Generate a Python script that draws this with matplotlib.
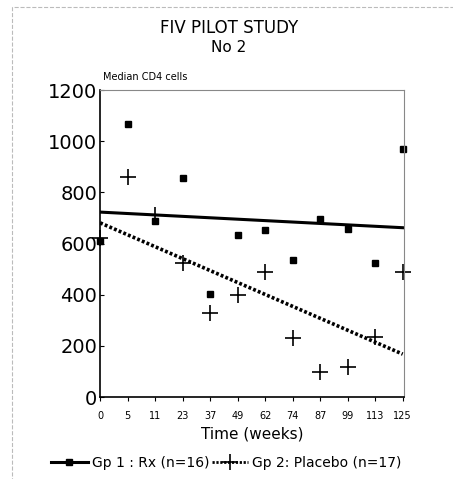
import matplotlib.pyplot as plt
from matplotlib.patches import Rectangle

weeks = ['0', '5', '11', '23', '37', '49', '62', '74', '87', '99', '113', '125']
rx = [610, 1067, 688, 856, 403, 633, 653, 536, 696, 657, 524, 970]
placebo = [620, 860, 711, 524, 328, 399, 489, 231, 98, 117, 235, 489]
# fitted trend lines, start and end values
trend_rx = [723, 662]
trend_placebo = [681, 168]

fig = plt.figure(figsize=(4.53, 4.79), dpi=100)
ax = fig.add_axes([0.221, 0.171, 0.671, 0.641])

x = list(range(len(weeks)))
ends = [x[0], x[-1]]

ax.plot(x, rx, 's', color='black', markersize=5, clip_on=False)
ax.plot(x, placebo, '+', color='black', markersize=11, mew=1.2, clip_on=False)
ax.plot(ends, trend_rx, '-', color='black', lw=2.2)
ax.plot(ends, trend_placebo, ls=(0, (0.8, 0.6)), color='black', lw=2.6)

ax.set_xlim(0, 11.05)
ax.set_ylim(0, 1200)
ax.set_xticks(x)
ax.set_xticklabels(weeks, fontsize=7)
ax.set_yticks(range(0, 1201, 200))
ax.tick_params(axis='y', direction='in', length=3, labelsize=14, pad=2)
ax.tick_params(axis='x', direction='out', length=3, pad=7)
for s in ['top', 'right']:
    ax.spines[s].set_color('#888888')
    ax.spines[s].set_linewidth(0.8)
ax.spines['left'].set_linewidth(1.2)
ax.spines['bottom'].set_linewidth(1.2)
ax.set_xlabel('Time (weeks)', fontsize=11, labelpad=4)

fig.text(0.505, 0.942, 'FIV PILOT STUDY', ha='center', va='center', fontsize=12)
fig.text(0.505, 0.900, 'No 2', ha='center', va='center', fontsize=11)
fig.text(0.227, 0.840, 'Median CD4 cells', ha='left', va='center', fontsize=7)

h1, = ax.plot([], [], '-s', color='black', lw=2.2, markersize=5)
h2, = ax.plot([], [], marker='+', ls=(0, (0.8, 0.6)), color='black', lw=2, markersize=11, mew=1.2)
fig.legend([h1, h2], ['Gp 1 : Rx (n=16)', 'Gp 2: Placebo (n=17)'],
           loc='center', bbox_to_anchor=(0.5, 0.033), ncol=2, frameon=False,
           fontsize=10, handlelength=2.6, handletextpad=0.3, columnspacing=0.2)

# scan border
fig.patches.append(Rectangle((0.027, -0.01), 0.99, 0.995, transform=fig.transFigure,
                             fill=False, ec='#bbbbbb', lw=0.8, ls='--'))

fig.savefig('out.png', dpi=100)
